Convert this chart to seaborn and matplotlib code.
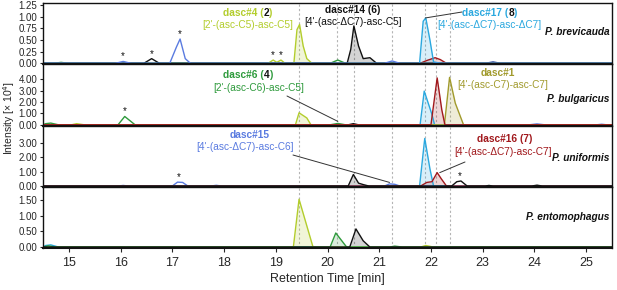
import numpy as np
import matplotlib
matplotlib.use("Agg")
import matplotlib.pyplot as plt
import seaborn as sns
from matplotlib.offsetbox import TextArea, HPacker, AnnotationBbox

# ---------------- data ----------------
# panel 1 : P. brevicauda
brev_blue_x = [14.5, 15.9, 16.05, 16.2, 16.95, 17.08, 17.15, 17.25, 17.35, 21.1, 21.25, 21.4, 25.5]
brev_blue_y = [0, 0, 0.04, 0, 0, 0.35, 0.52, 0.1, 0, 0, 0.05, 0, 0]
brev_black_x = [14.5, 16.45, 16.6, 16.75, 20.38, 20.45, 20.51, 20.6, 20.69, 20.82, 20.95, 25.5]
brev_black_y = [0, 0, 0.1, 0, 0, 0.3, 0.8, 0.37, 0.1, 0.12, 0, 0]
brev_yg_x = [14.5, 18.85, 18.95, 19.02, 19.1, 19.18, 19.35, 19.41, 19.46, 19.53, 19.6, 19.7, 25.5]
brev_yg_y = [0, 0, 0.07, 0.02, 0.07, 0, 0, 0.72, 0.83, 0.37, 0.1, 0, 0]
brev_green_x = [14.5, 14.7, 14.85, 15.0, 20.05, 20.2, 20.35, 25.5]
brev_green_y = [0, 0, 0.02, 0, 0, 0.07, 0, 0]
brev_cyan_x = [14.5, 21.78, 21.85, 21.9, 21.98, 22.05, 22.2, 25.5]
brev_cyan_y = [0, 0, 0.9, 0.97, 0.5, 0.03, 0, 0]
brev_red_x = [14.5, 21.79, 21.92, 22.08, 22.18, 22.3, 25.5]
brev_red_y = [0, 0, 0.06, 0.12, 0.08, 0, 0]
brev_navy_x = [14.5, 23.05, 23.2, 23.35, 25.5]
brev_navy_y = [0, 0, 0.03, 0, 0]
brev_star_x = [16.05, 16.6, 17.15, 18.95, 19.1]
brev_star_y = [0.04, 0.1, 0.52, 0.07, 0.07]

# panel 2 : P. bulgaricus
bulg_green_x = [14.5, 14.55, 14.65, 14.8, 15.95, 16.08, 16.28, 20.05, 20.2, 20.35, 25.5]
bulg_green_y = [0, 0.1, 0.15, 0, 0, 0.73, 0, 0, 0.12, 0, 0]
bulg_yg_x = [14.5, 15.05, 15.15, 15.3, 19.38, 19.45, 19.6, 19.68, 25.5]
bulg_yg_y = [0, 0, 0.1, 0, 0, 1.05, 0.6, 0, 0]
bulg_black_x = [14.5, 20.4, 20.5, 20.6, 25.5]
bulg_black_y = [0, 0, 0.1, 0, 0]
bulg_cyan_x = [14.5, 21.79, 21.87, 22.02, 22.07, 25.5]
bulg_cyan_y = [0, 0, 2.95, 0.9, 0, 0]
bulg_red_x = [14.5, 22.0, 22.12, 22.21, 22.27, 25.5]
bulg_red_y = [0, 0, 4.1, 1.3, 0, 0]
bulg_olive_x = [14.5, 22.26, 22.36, 22.47, 22.63, 25.5]
bulg_olive_y = [0, 0, 4.15, 1.9, 0, 0]
bulg_blue_x = [14.5, 23.9, 24.05, 24.2, 25.2, 25.3, 25.4, 25.5]
bulg_blue_y = [0, 0, 0.08, 0, 0, 0.05, 0, 0]
bulg_star_x = [16.08]
bulg_star_y = [0.73]

# panel 3 : P. uniformis
unif_blue_x = [14.5, 15.95, 16.05, 16.15, 17.0, 17.1, 17.2, 17.3, 17.75, 17.85, 17.95, 21.1, 21.2, 21.3, 21.4, 25.5]
unif_blue_y = [0, 0, 0.04, 0, 0, 0.27, 0.25, 0, 0, 0.05, 0, 0, 0.15, 0.12, 0, 0]
unif_black_x = [14.5, 20.4, 20.5, 20.6, 20.69, 20.8, 22.4, 22.5, 22.58, 22.7, 23.05, 23.12, 23.2, 23.95, 24.05, 24.15, 25.5]
unif_black_y = [0, 0, 0.8, 0.2, 0.1, 0, 0, 0.3, 0.35, 0, 0, 0.04, 0, 0, 0.06, 0, 0]
unif_cyan_x = [14.5, 21.78, 21.88, 21.98, 22.05, 25.5]
unif_cyan_y = [0, 0, 3.3, 1.2, 0, 0]
unif_red_x = [14.5, 21.8, 21.92, 22.02, 22.12, 22.2, 22.3, 25.5]
unif_red_y = [0, 0, 0.25, 0.3, 0.93, 0.5, 0, 0]
unif_star_x = [17.12, 22.55]
unif_star_y = [0.27, 0.35]

# panel 4 : P. entomophagus
ento_cyan_x = [14.5, 14.55, 14.65, 14.8, 25.5]
ento_cyan_y = [0, 0.05, 0.07, 0, 0]
ento_green_x = [14.5, 14.6, 14.75, 20.05, 20.16, 20.37, 21.2, 21.3, 21.45, 25.5]
ento_green_y = [0, 0.04, 0, 0, 0.45, 0, 0, 0.03, 0, 0]
ento_yg_x = [14.5, 19.34, 19.45, 19.72, 21.8, 21.9, 22.05, 25.5]
ento_yg_y = [0, 0, 1.53, 0, 0, 0.05, 0, 0]
ento_black_x = [14.5, 20.43, 20.55, 20.69, 20.82, 25.5]
ento_black_y = [0, 0, 0.58, 0.2, 0, 0]

# retention times of the marked compounds (dashed guides)
guide_times = [19.45, 20.18, 20.51, 21.25, 21.89, 22.1, 22.36]

species = ["P. brevicauda", "P. bulgaricus", "P. uniformis", "P. entomophagus"]
species_ypos = [0.52, 0.44, 0.47, 0.5]
panel_ylims = [(-0.02, 1.29), (-0.06, 5.3), (-0.05, 4.2), (-0.03, 1.93)]
panel_yticks = [[0, 0.25, 0.5, 0.75, 1.0, 1.25], [0, 1, 2, 3, 4], [0, 1, 2, 3], [0, 0.5, 1.0, 1.5]]

# colours
YG = "#b3cd2c"
GREEN = "#2e9a3c"
BLACK = "#111111"
CYAN = "#2aa8df"
DRED = "#a1181c"
OLIVE = "#a19a2c"
BLUE = "#5a7be0"
NAVY = "#24409a"

W, H = 617, 290
FONT = "Liberation Sans"
LABEL_SIZE = 7.3


def DrawTrace(ax, x, y, color, fill=None):
    sns.lineplot(x=x, y=y, ax=ax, color=color, lw=1.0, sort=False, estimator=None)
    if fill is not None:
        xa = np.array(x)
        ya = np.array(y)
        mask = (xa >= fill[0]) & (xa <= fill[1])
        ax.fill_between(xa[mask], 0, ya[mask], color=color, alpha=0.18, lw=0)


def DrawStars(ax, xs, ys):
    for x, y in zip(xs, ys):
        ax.annotate("*", (x, y), xytext=(0, 0), textcoords="offset points",
                    ha="center", va="bottom", fontsize=7, color=BLACK)


def FigPos(px, py):
    return (px / W, 1 - py / H)


def ColorLabel(ax, parts, px, py):
    boxes = [TextArea(t, textprops=dict(color=c, fontsize=LABEL_SIZE, fontweight="bold", family=FONT))
             for t, c in parts]
    pack = HPacker(children=boxes, align="baseline", pad=0, sep=0)
    ab = AnnotationBbox(pack, FigPos(px, py), xycoords="figure fraction", frameon=False,
                        box_alignment=(0.5, 0.5), pad=0, annotation_clip=False)
    ax.add_artist(ab)


def SubLabel(fig, text, color, px, py, ha="center"):
    fig.text(*FigPos(px, py), text, color=color, fontsize=LABEL_SIZE, ha=ha, va="center", family=FONT)


def Leader(ax, xy, px, py):
    ax.annotate("", xy=xy, xycoords="data", xytext=FigPos(px, py), textcoords="figure fraction",
                arrowprops=dict(arrowstyle="-", color="#333333", lw=0.7, shrinkA=0, shrinkB=0),
                annotation_clip=False)


sns.set_style("ticks")
plt.rcParams["font.family"] = [FONT, "DejaVu Sans"]

fig, axes = plt.subplots(4, 1, figsize=(W / 100, H / 100), dpi=100, sharex=True)
fig.subplots_adjust(left=43 / W, right=612 / W, top=1 - 3 / H, bottom=1 - 248 / H, hspace=0)

ax1, ax2, ax3, ax4 = axes

# panel 1
DrawTrace(ax1, brev_green_x, brev_green_y, GREEN)
DrawTrace(ax1, brev_navy_x, brev_navy_y, NAVY)
DrawTrace(ax1, brev_red_x, brev_red_y, DRED, fill=(21.7, 22.4))
DrawTrace(ax1, brev_yg_x, brev_yg_y, YG, fill=(19.3, 19.8))
DrawTrace(ax1, brev_black_x, brev_black_y, BLACK, fill=(20.3, 21.0))
DrawTrace(ax1, brev_cyan_x, brev_cyan_y, CYAN, fill=(21.7, 22.1))
DrawTrace(ax1, brev_blue_x, brev_blue_y, BLUE)
DrawStars(ax1, brev_star_x, brev_star_y)

# panel 2
DrawTrace(ax2, bulg_blue_x, bulg_blue_y, BLUE)
DrawTrace(ax2, bulg_black_x, bulg_black_y, BLACK)
DrawTrace(ax2, bulg_yg_x, bulg_yg_y, YG, fill=(19.3, 19.8))
DrawTrace(ax2, bulg_green_x, bulg_green_y, GREEN)
DrawTrace(ax2, bulg_cyan_x, bulg_cyan_y, CYAN, fill=(21.7, 22.1))
DrawTrace(ax2, bulg_olive_x, bulg_olive_y, OLIVE, fill=(22.2, 22.7))
DrawTrace(ax2, bulg_red_x, bulg_red_y, DRED, fill=(21.95, 22.3))
DrawStars(ax2, bulg_star_x, bulg_star_y)

# panel 3
DrawTrace(ax3, unif_blue_x, unif_blue_y, BLUE, fill=(21.05, 21.45))
DrawTrace(ax3, unif_cyan_x, unif_cyan_y, CYAN, fill=(21.7, 22.1))
DrawTrace(ax3, unif_red_x, unif_red_y, DRED, fill=(21.75, 22.35))
DrawTrace(ax3, unif_black_x, unif_black_y, BLACK, fill=(20.35, 20.85))
DrawStars(ax3, unif_star_x, unif_star_y)

# panel 4
DrawTrace(ax4, ento_cyan_x, ento_cyan_y, CYAN)
DrawTrace(ax4, ento_yg_x, ento_yg_y, YG, fill=(19.3, 19.8))
DrawTrace(ax4, ento_green_x, ento_green_y, GREEN, fill=(20.0, 20.4))
DrawTrace(ax4, ento_black_x, ento_black_y, BLACK, fill=(20.4, 20.85))

for ax, sp, sy, ylim, yt in zip(axes, species, species_ypos, panel_ylims, panel_yticks):
    for t in guide_times:
        ax.axvline(t, color="#b4b4b4", lw=0.8, ls=(0, (2, 2)), zorder=0)
    ax.set_ylim(*ylim)
    ax.set_yticks(yt)
    ax.set_yticklabels([f"{v:.2f}" for v in yt])
    ax.set_xlim(14.5, 25.5)
    ax.tick_params(axis="y", labelsize=7, length=2.5, width=0.8, pad=1.5)
    ax.tick_params(axis="x", labelsize=9, length=3, width=0.8)
    ax.set_ylabel("")
    for s in ax.spines.values():
        s.set_linewidth(1.0)
        s.set_color(BLACK)
    ax.spines["bottom"].set_linewidth(1.5)
    ax.text(0.995, sy, sp, transform=ax.transAxes, ha="right", va="center",
            fontsize=LABEL_SIZE, fontweight="bold", fontstyle="italic", color=BLACK)

ax4.set_xticks(range(15, 26))
ax4.set_xlabel("Retention Time [min]", fontsize=9, labelpad=3)
fig.text(*FigPos(9, 118), "Intensity [× 10$^{4}$]", rotation=90, ha="center", va="center", fontsize=7.5)

# compound labels
ColorLabel(ax1, [("dasc#4 (", YG), ("2", BLACK), (")", YG)], 248, 13)
SubLabel(fig, "[2'-(asc-C5)-asc-C5]", YG, 248, 24.5)
ColorLabel(ax1, [("dasc#14 (6)", BLACK)], 352.5, 10)
SubLabel(fig, "[4'-(asc-ΔC7)-asc-C5]", BLACK, 353, 22)
ColorLabel(ax1, [("dasc#17 (", CYAN), ("8", BLACK), (")", CYAN)], 490, 12.5)
SubLabel(fig, "[4'-(asc-ΔC7)-asc-ΔC7]", CYAN, 489.5, 24.5)
Leader(ax1, (21.89, 0.97), 462, 12)

ColorLabel(ax2, [("dasc#6 (", GREEN), ("4", BLACK), (")", GREEN)], 248, 75)
SubLabel(fig, "[2'-(asc-C6)-asc-C5]", GREEN, 258.5, 88)
Leader(ax2, (20.2, 0.3), 287, 96)
ColorLabel(ax2, [("dasc#1", OLIVE)], 498, 73)
SubLabel(fig, "[4'-(asc-C7)-asc-C7]", OLIVE, 502.5, 85)

ColorLabel(ax3, [("dasc#15", BLUE)], 250, 135)
SubLabel(fig, "[4'-(asc-ΔC7)-asc-C6]", BLUE, 245, 147.5)
Leader(ax3, (21.2, 0.25), 293, 155)
ColorLabel(ax3, [("dasc#16 (7)", DRED)], 504.5, 139.5)
SubLabel(fig, "[4'-(asc-ΔC7)-asc-C7]", DRED, 503, 152)
Leader(ax3, (22.17, 0.93), 465, 162)

fig.savefig("out.png", dpi=100)
